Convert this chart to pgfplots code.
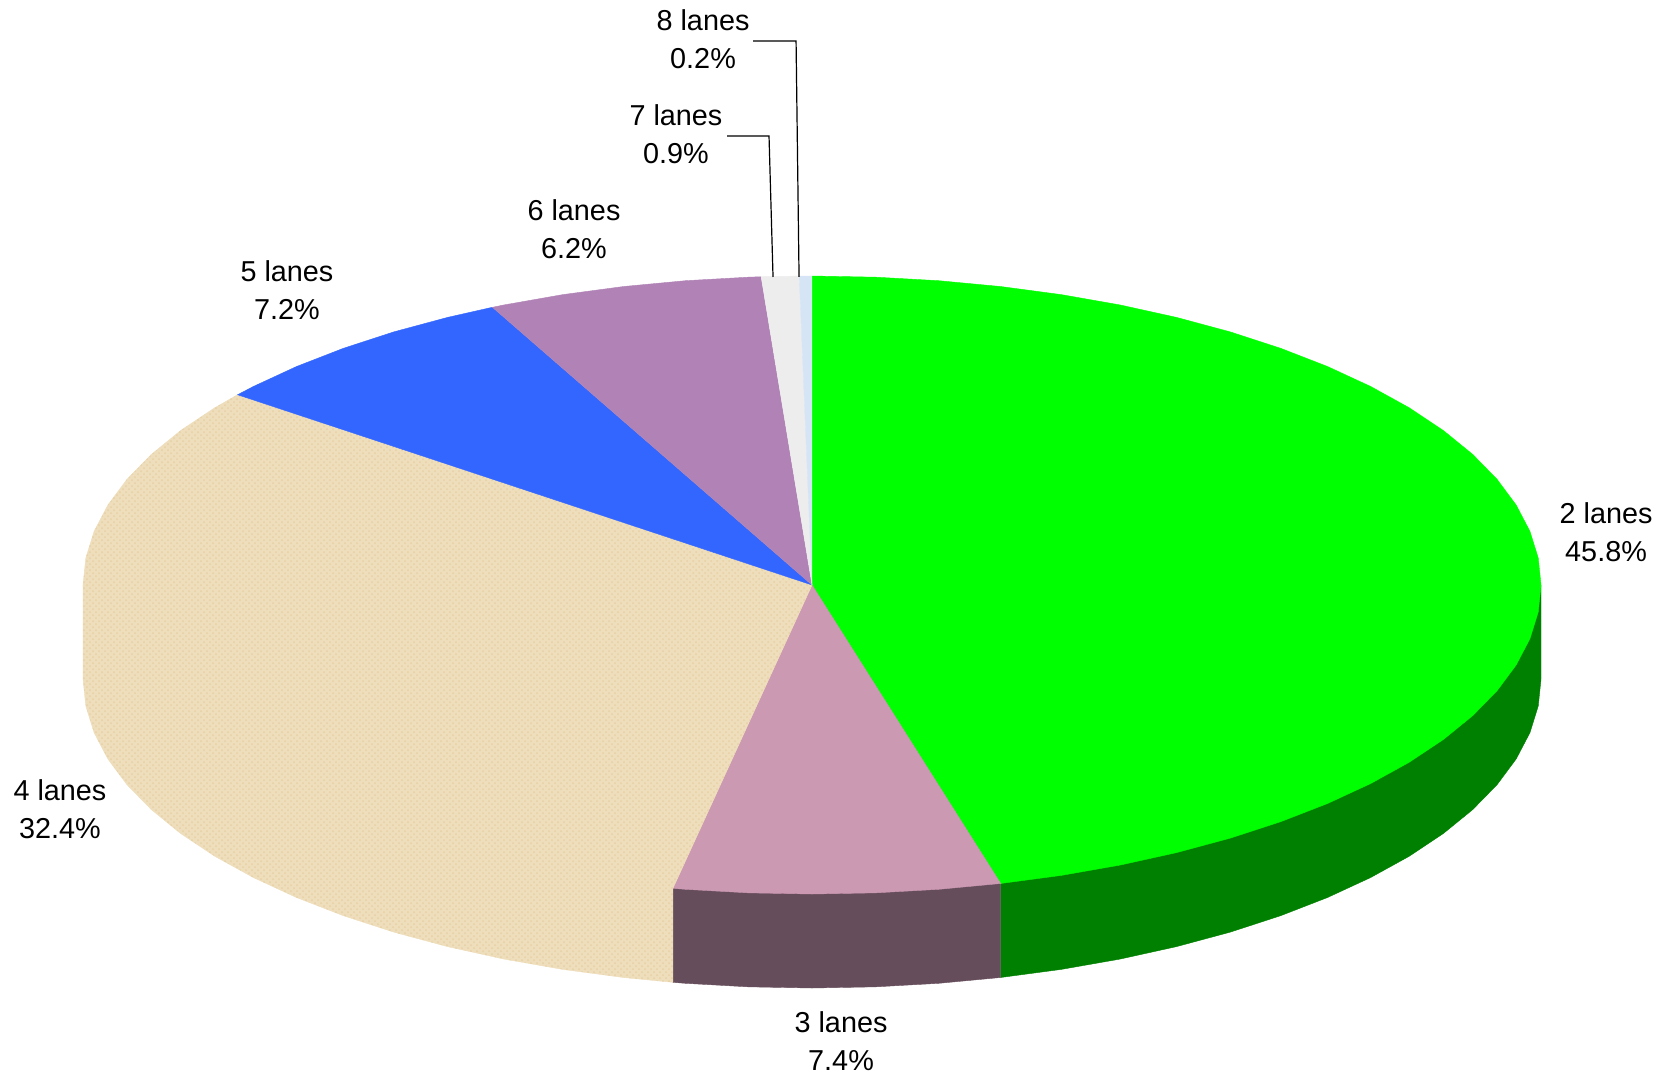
\documentclass[border=0pt]{standalone}
\usepackage{pgfplots}
\pgfplotsset{compat=1.18}
\usetikzlibrary{patterns}
\usepackage{fontspec}
\setmainfont{Liberation Sans}

\definecolor{twolanes}{HTML}{00FF00}
\definecolor{twoside}{HTML}{008000}
\definecolor{threelanes}{HTML}{CC99B3}
\definecolor{threeside}{HTML}{664D5C}
\definecolor{fourlanes}{HTML}{EFDEBB}
\definecolor{fourspeck}{HTML}{E6D0A4}
\definecolor{fivelanes}{HTML}{3366FF}
\definecolor{sixlanes}{HTML}{B082B6}
\definecolor{sevenlanes}{HTML}{EDEDED}
\definecolor{eightlanes}{HTML}{D5E5F5}

\tikzset{lab/.style={align=center,font=\fontsize{14.4}{19}\selectfont,inner sep=0pt}}

\begin{document}
\begin{tikzpicture}
\begin{axis}[
    hide axis,
    scale only axis,
    width=835.5pt,
    height=540pt,
    xmin=-1.1139, xmax=1.1783,
    ymin=-1.6019, ymax=1.8932,
    clip=false,
]
% page
\addplot[fill=white,draw=none] coordinates {(-1.1139,-1.6019) (1.1783,-1.6019) (1.1783,1.8932) (-1.1139,1.8932)};

% side walls, the top faces are painted over them
\addplot[fill=twoside,draw=twoside,line width=0.2pt] coordinates {
(0,0) (1,0) (1,-.3042) (.9962,-.3914) (.9848,-.4778) (.9659,-.5630) (.9397,-.6462)
(.9063,-.7268) (.8660,-.8042) (.8192,-.8778) (.7660,-.9470) (.7071,-1.0113)
(.6428,-1.0702) (.5736,-1.1234) (.5,-1.1702) (.4226,-1.2105) (.3420,-1.2439)
(.2588,-1.2701) (.2588,-.9659)};
\addplot[fill=threeside,draw=threeside,line width=0.2pt] coordinates {
(0,0) (.2588,-.9659) (.2588,-1.2701) (.1736,-1.2890) (.0872,-1.3004) (0,-1.3042)
(-.0872,-1.3004) (-.1736,-1.2890) (-.1908,-1.2858) (-.1908,-.9816)};
\addplot[fill=fourlanes,draw=fourlanes,line width=0.2pt] coordinates {
(0,0) (-.1908,-.9816) (-.1908,-1.2858) (-.2588,-1.2701) (-.3420,-1.2439) (-.4226,-1.2105)
(-.5,-1.1702) (-.5736,-1.1234) (-.6428,-1.0702) (-.7071,-1.0113) (-.7660,-.9470)
(-.8192,-.8778) (-.8660,-.8042) (-.9063,-.7268) (-.9397,-.6462) (-.9659,-.5630)
(-.9848,-.4778) (-.9962,-.3914) (-1,-.3042) (-1,0)};
\addplot[draw=none,pattern=crosshatch dots,pattern color=fourspeck] coordinates {
(0,0) (-.1908,-.9816) (-.1908,-1.2858) (-.2588,-1.2701) (-.3420,-1.2439) (-.4226,-1.2105)
(-.5,-1.1702) (-.5736,-1.1234) (-.6428,-1.0702) (-.7071,-1.0113) (-.7660,-.9470)
(-.8192,-.8778) (-.8660,-.8042) (-.9063,-.7268) (-.9397,-.6462) (-.9659,-.5630)
(-.9848,-.4778) (-.9962,-.3914) (-1,-.3042) (-1,0)};

% top faces
\addplot[fill=twolanes,draw=twolanes,line width=0.2pt] coordinates {
(0,0) (0,1) (.0872,.9962) (.1736,.9848) (.2588,.9659) (.3420,.9397) (.4226,.9063)
(.5,.8660) (.5736,.8192) (.6428,.7660) (.7071,.7071) (.7660,.6428) (.8192,.5736)
(.8660,.5) (.9063,.4226) (.9397,.3420) (.9659,.2588) (.9848,.1736) (.9962,.0872)
(1,0) (.9962,-.0872) (.9848,-.1736) (.9659,-.2588) (.9397,-.3420) (.9063,-.4226)
(.8660,-.5) (.8192,-.5736) (.7660,-.6428) (.7071,-.7071) (.6428,-.7660) (.5736,-.8192)
(.5,-.8660) (.4226,-.9063) (.3420,-.9397) (.2588,-.9659)};
\addplot[fill=threelanes,draw=threelanes,line width=0.2pt] coordinates {
(0,0) (.2588,-.9659) (.1736,-.9848) (.0872,-.9962) (0,-1) (-.0872,-.9962)
(-.1736,-.9848) (-.1908,-.9816)};
\addplot[fill=fourlanes,draw=fourlanes,line width=0.2pt] coordinates {
(0,0) (-.1908,-.9816) (-.2588,-.9659) (-.3420,-.9397) (-.4226,-.9063) (-.5,-.8660)
(-.5736,-.8192) (-.6428,-.7660) (-.7071,-.7071) (-.7660,-.6428) (-.8192,-.5736)
(-.8660,-.5) (-.9063,-.4226) (-.9397,-.3420) (-.9659,-.2588) (-.9848,-.1736)
(-.9962,-.0872) (-1,0) (-.9962,.0872) (-.9848,.1736) (-.9659,.2588) (-.9397,.3420)
(-.9063,.4226) (-.8660,.5) (-.8192,.5736) (-.7880,.6157)};
\addplot[draw=none,pattern=crosshatch dots,pattern color=fourspeck] coordinates {
(0,0) (-.1908,-.9816) (-.2588,-.9659) (-.3420,-.9397) (-.4226,-.9063) (-.5,-.8660)
(-.5736,-.8192) (-.6428,-.7660) (-.7071,-.7071) (-.7660,-.6428) (-.8192,-.5736)
(-.8660,-.5) (-.9063,-.4226) (-.9397,-.3420) (-.9659,-.2588) (-.9848,-.1736)
(-.9962,-.0872) (-1,0) (-.9962,.0872) (-.9848,.1736) (-.9659,.2588) (-.9397,.3420)
(-.9063,.4226) (-.8660,.5) (-.8192,.5736) (-.7880,.6157)};
\addplot[fill=fivelanes,draw=fivelanes,line width=0.2pt] coordinates {
(0,0) (-.7880,.6157) (-.7660,.6428) (-.7071,.7071) (-.6428,.7660) (-.5736,.8192)
(-.5,.8660) (-.4384,.8988)};
\addplot[fill=sixlanes,draw=sixlanes,line width=0.2pt] coordinates {
(0,0) (-.4384,.8988) (-.4226,.9063) (-.3420,.9397) (-.2588,.9659) (-.1736,.9848)
(-.0872,.9962) (-.0698,.9976)};
\addplot[fill=sevenlanes,draw=sevenlanes,line width=0.2pt] coordinates {
(0,0) (-.0698,.9976) (-.0175,.9998)};
\addplot[fill=eightlanes,draw=eightlanes,line width=0.2pt] coordinates {
(0,0) (-.0175,.9998) (0,1)};

% leader lines
\addplot[black,line width=0.6pt] coordinates {(-.0809,1.7605) (-.0219,1.7605) (-.0178,.9968)};
\addplot[black,line width=0.6pt] coordinates {(-.1166,1.4531) (-.0590,1.4531) (-.0535,.9968)};

\node[lab] at (axis cs:1.0892,.1715) {2 lanes\\45.8\%};
\node[lab] at (axis cs:.0398,-1.4757) {3 lanes\\7.4\%};
\node[lab] at (axis cs:-1.0316,-.7249) {4 lanes\\32.4\%};
\node[lab] at (axis cs:-.7202,.9547) {5 lanes\\7.2\%};
\node[lab] at (axis cs:-.3265,1.1521) {6 lanes\\6.2\%};
\node[lab] at (axis cs:-.1866,1.4595) {7 lanes\\0.9\%};
\node[lab] at (axis cs:-.1495,1.7657) {8 lanes\\0.2\%};
\end{axis}
\end{tikzpicture}
\end{document}
